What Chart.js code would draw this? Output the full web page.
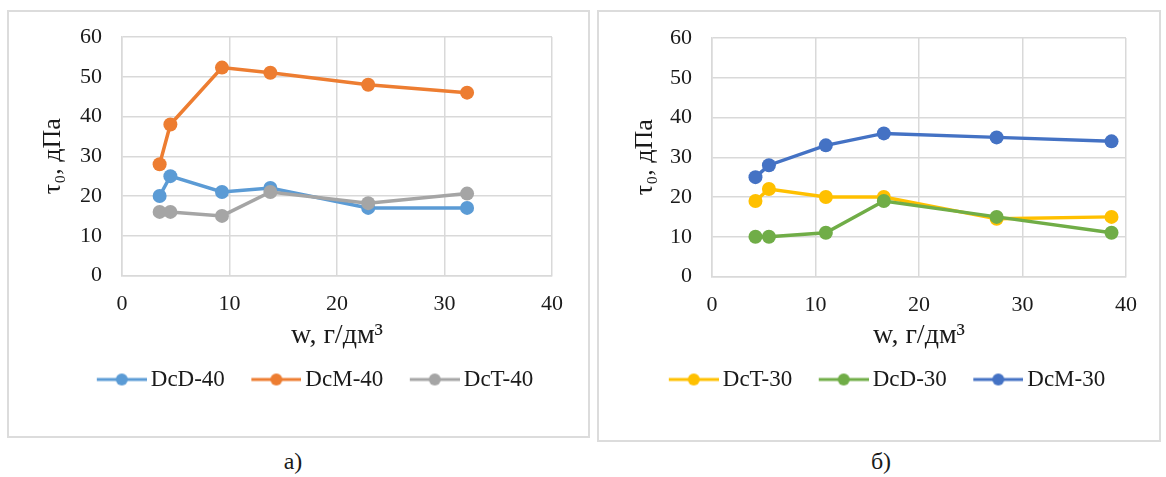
<!DOCTYPE html>
<html>
<head>
<meta charset="utf-8">
<script src="https://cdn.jsdelivr.net/npm/chart.js@4.4.0/dist/chart.umd.min.js"></script>
<style>
  html, body { margin: 0; padding: 0; background: #fff; overflow: hidden; }
  body { width: 1166px; height: 477px; position: relative; font-family: 'Liberation Serif', serif; }
  .frame { position: absolute; border: 2px solid #dcdcdc; box-sizing: border-box; }
  .wrap { position: absolute; }
  .cap { position: absolute; font-size: 24px; color: #1a1a1a; transform: translateX(-50%); }
</style>
</head>
<body>
<div class="frame" style="left:7px;top:10px;width:583px;height:428px"></div>
<div class="frame" style="left:597px;top:10px;width:564px;height:432px"></div>
<div class="wrap" style="left:10px;top:12px;width:577px;height:424px"><canvas id="chartA"></canvas></div>
<div class="wrap" style="left:600px;top:12px;width:558px;height:428px"><canvas id="chartB"></canvas></div>
<div class="cap" style="left:293px;top:448px">а)</div>
<div class="cap" style="left:881px;top:448px">б)</div>

<script>
// chart a) - 40
const w40 = [3.5, 4.5, 9.3, 13.8, 22.9, 32.1];
const dcd40 = [20, 25, 21, 22, 17, 17];
const dcm40 = [28, 38, 52.3, 51, 48, 46];
const dct40 = [16, 16, 15, 21, 18.2, 20.6];

// chart б) - 30
const w30 = [4.2, 5.5, 11, 16.6, 27.5, 38.6];
const dct30 = [19, 22, 20, 20, 14.5, 15];
const dcd30 = [10, 10, 11, 19, 15, 11];
const dcm30 = [25, 28, 33, 36, 35, 34];

const xTicks = [0, 10, 20, 30, 40];
const yTicks = [0, 10, 20, 30, 40, 50, 60];

const FONT = "'Liberation Serif', 'Times New Roman', serif";
const TXT = '#1a1a1a';
const GRID = '#d9d9d9';

// legend icon: line with a dot, like excel
function legendIcon(color) {
  const c = document.createElement('canvas');
  c.width = 74; c.height = 16;
  const ctx = c.getContext('2d');
  ctx.strokeStyle = color;
  ctx.lineWidth = 3;
  ctx.beginPath(); ctx.moveTo(24, 8); ctx.lineTo(74, 8); ctx.stroke();
  ctx.fillStyle = color;
  ctx.beginPath(); ctx.arc(49, 8, 6, 0, 2 * Math.PI); ctx.fill();
  return c;
}

function series(label, xs, ys, color, order) {
  return {
    label: label,
    data: xs.map((x, i) => ({x: x, y: ys[i]})),
    borderColor: color,
    backgroundColor: color,
    borderWidth: 3.5,
    pointRadius: 7,
    pointBorderWidth: 0,
    pointHoverRadius: 7,
    showLine: true,
    order: order
  };
}

// moves the legend sideways after layout
const legendShift = {
  id: 'legendShift',
  afterLayout(chart, args, opts) {
    const lg = chart.legend;
    if (lg && opts.dx) { lg.left += opts.dx; lg.right += opts.dx; }
  }
};

function makeChart(id, datasets, pad, legendDx) {
  const icons = datasets.map(d => legendIcon(d.borderColor));
  return new Chart(document.getElementById(id), {
    type: 'scatter',
    data: {datasets: datasets},
    plugins: [legendShift],
    options: {
      responsive: true,
      maintainAspectRatio: false,
      animation: false,
      layout: {padding: pad.layout},
      plugins: {
        tooltip: {enabled: false},
        legendShift: {dx: legendDx},
        legend: {
          position: 'bottom',
          labels: {
            usePointStyle: true,
            pointStyleWidth: 59,
            padding: 10,
            color: TXT,
            font: {family: FONT, size: 23},
            generateLabels: chart => chart.data.datasets.map((ds, i) => ({
              text: ds.label,
              pointStyle: icons[i],
              datasetIndex: i,
              fontColor: TXT,
              fillStyle: ds.borderColor,
              strokeStyle: ds.borderColor,
              lineWidth: 0,
              hidden: false
            }))
          }
        }
      },
      scales: {
        x: {
          type: 'linear',
          min: 0, max: 40,
          afterBuildTicks: s => { s.ticks = xTicks.map(v => ({value: v})); },
          afterFit: s => { s.height = pad.xHeight; },
          grid: {color: GRID, lineWidth: 1.5, drawTicks: false},
          border: {color: GRID, width: 1.5},
          ticks: {padding: 16, color: TXT, font: {family: FONT, size: 22}},
          title: {
            display: true,
            text: 'w, г/дм³',
            color: TXT,
            font: {family: FONT, size: 28},
            padding: {top: 0, bottom: pad.xTitle}
          }
        },
        y: {
          min: 0, max: 60,
          afterBuildTicks: s => { s.ticks = yTicks.map(v => ({value: v})); },
          afterFit: s => { s.width = pad.yWidth; },
          // invisible tick marks keep the labels away from the axis
          grid: {color: GRID, lineWidth: 1.5, drawTicks: true, tickLength: 20, tickColor: 'rgba(0,0,0,0)'},
          border: {color: GRID, width: 1.5},
          ticks: {padding: 0, color: TXT, font: {family: FONT, size: 22}},
          title: {
            display: true,
            text: 'τ₀, дПа',
            color: TXT,
            font: {family: FONT, size: 26},
            padding: {top: pad.yTitle, bottom: 0}
          }
        }
      }
    }
  });
}

function drawAll() {
  makeChart('chartA', [
    series('DcD-40', w40, dcd40, '#5B9BD5', 3),
    series('DcM-40', w40, dcm40, '#ED7D31', 2),
    series('DcT-40', w40, dct40, '#A5A5A5', 1)
  ], {layout: {left: 0, right: 35, top: 25, bottom: 35}, xHeight: 82.5, yWidth: 112, xTitle: 5.5, yTitle: 28}, 25.75);

  makeChart('chartB', [
    series('DcT-30', w30, dct30, '#FFC000', 3),
    series('DcD-30', w30, dcd30, '#70AD47', 2),
    series('DcM-30', w30, dcm30, '#4472C4', 1)
  ], {layout: {left: 0, right: 32, top: 26, bottom: 39}, xHeight: 81.5, yWidth: 112, xTitle: 5.5, yTitle: 30}, 15.75);
}

// wait for the serif font so canvas text does not fall back
Promise.all([
  document.fonts.load("22px 'Liberation Serif'"),
  document.fonts.load("22px 'Liberation Serif'", 'τ₀дПаг³')
]).then(drawAll, drawAll);
</script>
</body>
</html>
